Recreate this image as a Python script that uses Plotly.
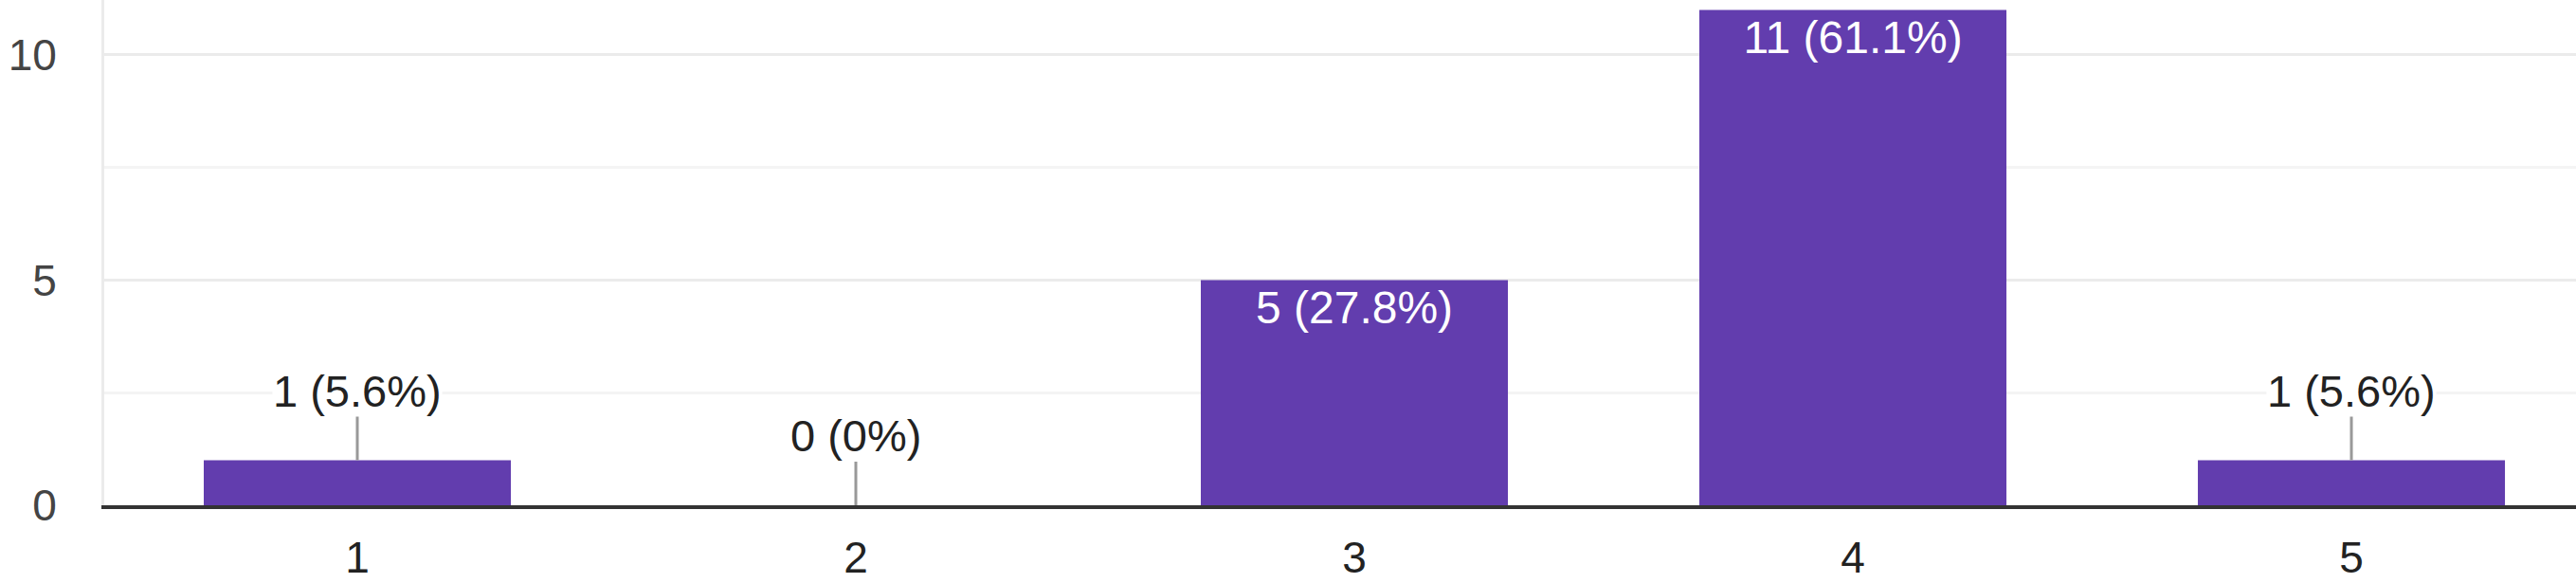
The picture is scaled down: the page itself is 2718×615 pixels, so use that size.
import plotly.graph_objects as go

categories = [1, 2, 3, 4, 5]
counts = [1, 0, 5, 11, 1]
labels = ["1 (5.6%)", "0 (0%)", "5 (27.8%)", "11 (61.1%)", "1 (5.6%)"]
inside = [False, False, True, True, False]

BAR = "#623DAE"
FONT = "Liberation Sans, Arial, sans-serif"

fig = go.Figure()
fig.add_trace(go.Bar(
    x=categories, y=counts,
    width=0.616,
    marker=dict(color=BAR, line=dict(width=0)),
    text=[l if i else "" for l, i in zip(labels, inside)],
    textposition=["inside" if i else "none" for i in inside],
    insidetextanchor="end",
    textangle=0,
    constraintext="none",
    insidetextfont=dict(color="white", size=48, family=FONT),
    hoverinfo="skip",
))

for c, v, l, i in zip(categories, counts, labels, inside):
    if not i:
        fig.add_annotation(
            x=c, y=v, xref="x", yref="y",
            text=l, showarrow=True, arrowhead=0, arrowwidth=3,
            arrowcolor="#999999", ax=0, ay=-46, yanchor="bottom",
            bgcolor="white", borderpad=0,
            font=dict(size=47, color="#222222", family=FONT),
        )

fig.update_layout(
    width=2718, height=615,
    margin=dict(l=110, r=0, t=0, b=82, autoexpand=False),
    paper_bgcolor="white", plot_bgcolor="white",
    showlegend=False,
    font=dict(family=FONT, size=46, color="#444444"),
)
fig.update_xaxes(
    range=[0.4924, 5.4505], tickmode="array", tickvals=categories,
    ticktext=[str(c) for c in categories],
    showgrid=False, zeroline=False, automargin=False,
    showline=True, linecolor="#333333", linewidth=4,
    ticks="", ticklabelstandoff=12,
    tickfont=dict(size=46, color="#222222", family=FONT),
)
fig.update_yaxes(
    range=[0, 11.22], tickmode="linear", tick0=0, dtick=5,
    showgrid=True, gridcolor="#ebebeb", gridwidth=3,
    zeroline=False, automargin=False,
    showline=True, linecolor="#ebebeb", linewidth=3,
    ticks="", ticklabelstandoff=38,
    tickfont=dict(size=46, color="#444444", family=FONT),
    minor=dict(dtick=2.5, showgrid=True, gridcolor="#f4f4f4", gridwidth=3),
)

fig.write_html(
    "out.html",
    config={"displayModeBar": False},
    post_script="document.body.style.margin='0';document.body.style.overflow='hidden';",
)
